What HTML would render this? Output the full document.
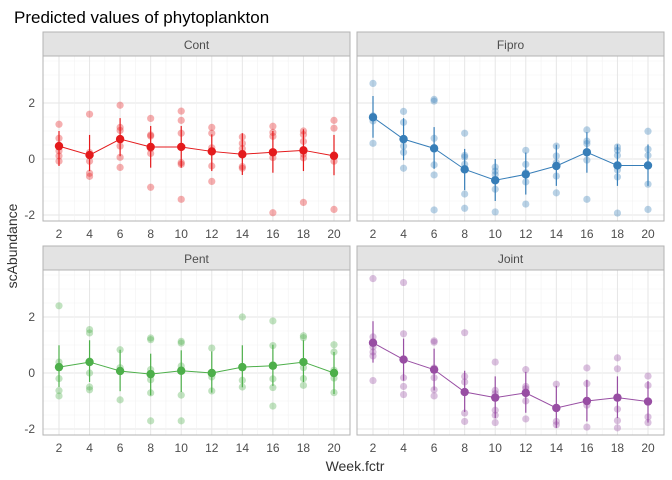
<!DOCTYPE html>
<html><head><meta charset="utf-8"><style>
body{margin:0;background:#fff;}
svg{display:block;font-family:"Liberation Sans",sans-serif;}
</style></head><body>
<svg id="c" width="672" height="480" xmlns="http://www.w3.org/2000/svg">
<rect width="672" height="480" fill="#fff"/>
<text x="14" y="23" font-size="17" fill="#000">Predicted values of phytoplankton</text>
<text x="355" y="471" font-size="14" text-anchor="middle" fill="#333">Week.fctr</text>
<text transform="translate(17,246) rotate(-90)" font-size="14" text-anchor="middle" fill="#333">scAbundance</text>
</svg>
<script>
const weeks=[2,4,6,8,10,12,14,16,18,20];
const panelNames=["Cont","Fipro","Pent","Joint"];
const colors=["#e41a1c","#377eb8","#4daf4a","#984ea3"];
const yTicks=[-2,0,2];
const contMean=[0.46,0.14,0.71,0.43,0.43,0.27,0.17,0.24,0.31,0.11];
const contHi=[1.0,0.86,1.46,1.18,1.18,0.88,0.92,1.0,1.06,0.86];
const contLo=[-0.25,-0.43,0.1,-0.31,-0.31,-0.43,-0.57,-0.49,-0.43,-0.58];
const contPts=[[1.24,0.74,0.29,0.11,-0.08],[1.6,0.23,-0.08,-0.51,-0.62],[1.92,1.13,1.02,0.46,0.06,-0.3],[1.45,0.86,0.82,0.37,0.2,-1.01],[1.71,1.38,0.92,-0.13,-0.19,-1.44],[1.13,0.92,0.4,-0.25,-0.8],[0.79,0.56,0.37,-0.27,-0.33],[1.17,0.95,0.81,0.05,-1.92],[1.0,0.87,0.63,0.17,0.04,-1.55],[1.38,1.1,0.15,-0.08,-1.8]];
const fiproMean=[1.49,0.71,0.38,-0.37,-0.76,-0.55,-0.25,0.24,-0.23,-0.23];
const fiproHi=[2.25,1.46,1.14,0.36,0,0.23,0.51,0.96,0.52,0.52];
const fiproLo=[0.76,-0.04,-0.35,-1.11,-1.5,-1.27,-0.96,-0.49,-0.96,-0.96];
const fiproPts=[[2.7,1.54,1.36,0.56],[1.7,1.31,0.46,0.24,-0.33],[2.13,2.07,0.74,-0.21,-0.57,-1.82],[0.92,0.13,0.07,-0.19,-1.25,-1.76],[-0.29,-0.43,-0.56,-1.08,-1.89],[0.31,-0.19,-0.49,-0.82,-1.61],[0.46,0.11,-0.13,-0.61,-1.21],[1.04,0.64,0.55,-0.04,-1.44],[0.43,0.31,0.13,-0.39,-0.64,-1.93],[0.99,0.35,0.13,-0.9,-1.8]];
const pentMean=[0.21,0.39,0.07,-0.04,0.08,0,0.21,0.26,0.39,0];
const pentHi=[0.99,1.17,0.83,0.69,0.81,0.77,0.99,1.01,1.17,0.75];
const pentLo=[-0.5,-0.32,-0.65,-0.8,-0.68,-0.7,-0.51,-0.46,-0.32,-0.75];
const pentPts=[[2.4,0.39,-0.2,-0.63,-0.82],[1.55,1.43,0.43,0,-0.5,-0.6],[0.83,0.19,0.1,-0.96],[1.25,1.19,0.12,-0.24,-0.71,-1.71],[1.13,1.07,0.25,-0.79,-1.71],[0.89,-0.14,-0.64],[2.0,-0.26,-0.5],[1.86,0.98,-0.21,-0.52,-1.18],[1.33,1.26,0.19,-0.2,-0.44],[1.01,0.75,0.1,-0.18,-0.7]];
const jointMean=[1.08,0.48,0.12,-0.68,-0.88,-0.71,-1.25,-1.0,-0.88,-1.02];
const jointHi=[1.85,1.23,0.87,0.08,-0.12,0.04,-0.46,-0.24,-0.12,-0.29];
const jointLo=[0.37,-0.27,-0.62,-1.39,-1.61,-1.42,-1.96,-1.73,-1.61,-1.77];
const jointPts=[[3.37,1.29,0.93,0.75,0.61,-0.27],[3.23,1.4,-0.17,-0.48,-0.77],[1.15,1.1,0.18,-0.17,-0.6,-0.82],[1.44,-0.12,-0.32,-1.43,-1.73],[0.39,-0.62,-0.74,-1.33,-1.51,-1.77],[0.12,-0.48,-0.56,-1.0,-1.64],[-0.4,-1.73,-1.85],[0.18,-0.38,-1.15,-1.93],[0.54,0.15,-1.29,-1.7,-1.96],[-0.11,-0.44,-1.57,-1.77]];

const means=[contMean,fiproMean,pentMean,jointMean];
const his=[contHi,fiproHi,pentHi,jointHi];
const los=[contLo,fiproLo,pentLo,jointLo];
const pts=[contPts,fiproPts,pentPts,jointPts];
const svg=document.getElementById('c');
const NS="http://www.w3.org/2000/svg";
function mk(tag,attrs,parent){const e=document.createElementNS(NS,tag);for(const k in attrs)e.setAttribute(k,attrs[k]);(parent||svg).appendChild(e);return e;}
const layout=[{x0:43,x1:350,y0:56,y1:221},{x0:357,x1:664,y0:56,y1:221},{x0:43,x1:350,y0:270,y1:435},{x0:357,x1:664,y0:270,y1:435}];
const zeroY=[159,159,373,373];
const unit=28;
panelNames.forEach((name,p)=>{
  const L=layout[p];
  const g=mk('g',{});
  
  
  const xs=i=>L.x0+16+(i)*(L.x1-L.x0-32)/9;
  const xv=w=>xs(weeks.indexOf(w));
  const ys=v=>zeroY[p]-v*unit;
  // grid
  for(let v=-2.5;v<=3.5;v+=0.5){const y=ys(v);if(y<L.y0||y>L.y1)continue;const major=Number.isInteger(v)&&v%2===0;
    mk('line',{x1:L.x0,x2:L.x1,y1:y,y2:y,stroke:major?'#e6e6e6':'#f2f2f2','stroke-width':major?1:0.6},g);}
  for(let i=0;i<weeks.length;i++){mk('line',{x1:xs(i),x2:xs(i),y1:L.y0,y2:L.y1,stroke:'#e6e6e6','stroke-width':1},g);
    if(i<weeks.length-1){const m=(xs(i)+xs(i+1))/2;mk('line',{x1:m,x2:m,y1:L.y0,y2:L.y1,stroke:'#f2f2f2','stroke-width':0.6},g);}}
  mk('rect',{x:L.x0,y:L.y0,width:L.x1-L.x0,height:L.y1-L.y0,fill:'none',stroke:'#b3b3b3','stroke-width':1},g);
  // strip
  const s=mk('rect',{x:L.x0,y:L.y0-24,width:L.x1-L.x0,height:24,fill:'#e3e3e3',stroke:'#b3b3b3','stroke-width':1},g);
  
  
  const st=mk('text',{x:(L.x0+L.x1)/2,y:L.y0-7,'font-size':12,'text-anchor':'middle',fill:'#4d4d4d'},g);st.textContent=name;
  
  
  // y ticks (left column only)
  if(p%2===0){yTicks.forEach(t=>{const tx=mk('text',{x:L.x0-8,y:ys(t)+4,'font-size':12,'text-anchor':'end',fill:'#4d4d4d'},g);tx.textContent=t;
    
    });}
  // x ticks (all panels)
  weeks.forEach(w=>{const tx=mk('text',{x:xv(w),y:L.y1+17,'font-size':12,'text-anchor':'middle',fill:'#4d4d4d'},g);tx.textContent=w;
    
    });
  const col=colors[p];
  // raw points
  pts[p].forEach((arr,i)=>arr.forEach(v=>{const c=mk('circle',{cx:xv(weeks[i]),cy:ys(v),r:3.6,fill:col,'fill-opacity':0.35},g);
    
    }));
  // errorbars
  weeks.forEach((w,i)=>{const l=mk('line',{x1:xv(w),x2:xv(w),y1:ys(his[p][i]),y2:ys(los[p][i]),stroke:col,'stroke-width':1.2},g);
    
    });
  // line
  const pl=mk('polyline',{points:weeks.map((w,i)=>xv(w)+','+ys(means[p][i])).join(' '),fill:'none',stroke:col,'stroke-width':1},g);
  
  
  weeks.forEach((w,i)=>{const c=mk('circle',{cx:xv(w),cy:ys(means[p][i]),r:4.2,fill:col},g);
    
    });
});
</script>
</body></html>
